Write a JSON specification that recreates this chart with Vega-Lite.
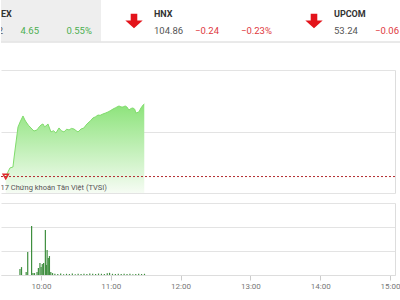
{
  "$schema": "https://vega.github.io/schema/vega-lite/v6.json",
  "padding": 0,
  "bounds": "flush",
  "spacing": 28,
  "config": {"font": "Roboto", "view": {"stroke": null}},
  "datasets": {
    "header": [
      {"index": "VNINDEX", "value": 849.72, "change": 4.65, "pct": 0.0055},
      {"index": "HNX", "value": 104.86, "change": -0.24, "pct": -0.0023},
      {"index": "UPCOM", "value": 53.24, "change": -0.06, "pct": -0.0011}
    ],
    "index": [
      {"t": "2017-06-01T09:34:00", "v": 845.07},
      {"t": "2017-06-01T09:37:30", "v": 845.63},
      {"t": "2017-06-01T09:40:00", "v": 845.69},
      {"t": "2017-06-01T09:41:00", "v": 846.34},
      {"t": "2017-06-01T09:42:30", "v": 847.25},
      {"t": "2017-06-01T09:44:15", "v": 848.29},
      {"t": "2017-06-01T09:46:00", "v": 848.62},
      {"t": "2017-06-01T09:48:25", "v": 849.01},
      {"t": "2017-06-01T09:50:00", "v": 848.75},
      {"t": "2017-06-01T09:51:00", "v": 848.62},
      {"t": "2017-06-01T09:53:00", "v": 848.40},
      {"t": "2017-06-01T09:55:05", "v": 848.23},
      {"t": "2017-06-01T09:57:35", "v": 848.03},
      {"t": "2017-06-01T10:00:10", "v": 848.10},
      {"t": "2017-06-01T10:02:00", "v": 848.30},
      {"t": "2017-06-01T10:03:30", "v": 848.42},
      {"t": "2017-06-01T10:05:10", "v": 848.49},
      {"t": "2017-06-01T10:06:30", "v": 848.30},
      {"t": "2017-06-01T10:07:40", "v": 848.36},
      {"t": "2017-06-01T10:09:20", "v": 848.49},
      {"t": "2017-06-01T10:11:50", "v": 847.97},
      {"t": "2017-06-01T10:14:00", "v": 848.05},
      {"t": "2017-06-01T10:16:00", "v": 847.90},
      {"t": "2017-06-01T10:18:35", "v": 848.23},
      {"t": "2017-06-01T10:20:30", "v": 848.05},
      {"t": "2017-06-01T10:22:45", "v": 847.97},
      {"t": "2017-06-01T10:25:00", "v": 848.15},
      {"t": "2017-06-01T10:27:00", "v": 848.10},
      {"t": "2017-06-01T10:29:00", "v": 848.20},
      {"t": "2017-06-01T10:31:10", "v": 848.16},
      {"t": "2017-06-01T10:33:00", "v": 848.05},
      {"t": "2017-06-01T10:34:30", "v": 847.97},
      {"t": "2017-06-01T10:37:00", "v": 848.16},
      {"t": "2017-06-01T10:39:30", "v": 848.23},
      {"t": "2017-06-01T10:41:00", "v": 848.40},
      {"t": "2017-06-01T10:42:50", "v": 848.55},
      {"t": "2017-06-01T10:45:00", "v": 848.70},
      {"t": "2017-06-01T10:47:00", "v": 848.88},
      {"t": "2017-06-01T10:49:00", "v": 848.95},
      {"t": "2017-06-01T10:51:15", "v": 849.07},
      {"t": "2017-06-01T10:53:00", "v": 849.05},
      {"t": "2017-06-01T10:55:25", "v": 849.14},
      {"t": "2017-06-01T10:57:30", "v": 849.20},
      {"t": "2017-06-01T10:59:40", "v": 849.27},
      {"t": "2017-06-01T11:01:30", "v": 849.35},
      {"t": "2017-06-01T11:03:50", "v": 849.46},
      {"t": "2017-06-01T11:06:00", "v": 849.55},
      {"t": "2017-06-01T11:08:50", "v": 849.66},
      {"t": "2017-06-01T11:10:30", "v": 849.60},
      {"t": "2017-06-01T11:12:10", "v": 849.59},
      {"t": "2017-06-01T11:14:00", "v": 849.66},
      {"t": "2017-06-01T11:15:30", "v": 849.59},
      {"t": "2017-06-01T11:17:10", "v": 849.40},
      {"t": "2017-06-01T11:19:00", "v": 849.50},
      {"t": "2017-06-01T11:20:30", "v": 849.53},
      {"t": "2017-06-01T11:22:00", "v": 849.45},
      {"t": "2017-06-01T11:23:00", "v": 849.20},
      {"t": "2017-06-01T11:25:30", "v": 849.27},
      {"t": "2017-06-01T11:27:15", "v": 849.53},
      {"t": "2017-06-01T11:29:00", "v": 849.72},
      {"t": "2017-06-01T11:30:00", "v": 849.79}
    ],
    "ref": [{"t": "2017-06-01T09:34:00", "ref": 845.07}],
    "credit": [{"text": "© 2017 Chứng khoán Tân Việt (TVSI)"}],
    "volume": [
      {"t": "2017-06-01T09:42:00", "vol": 0.25},
      {"t": "2017-06-01T09:43:20", "vol": 0.33},
      {"t": "2017-06-01T09:47:20", "vol": 0.12},
      {"t": "2017-06-01T09:48:40", "vol": 0.96},
      {"t": "2017-06-01T09:52:00", "vol": 2.04},
      {"t": "2017-06-01T09:53:10", "vol": 0.08},
      {"t": "2017-06-01T09:54:30", "vol": 0.08},
      {"t": "2017-06-01T09:56:40", "vol": 0.12},
      {"t": "2017-06-01T09:57:50", "vol": 0.29},
      {"t": "2017-06-01T09:59:10", "vol": 0.50},
      {"t": "2017-06-01T10:00:10", "vol": 0.33},
      {"t": "2017-06-01T10:01:10", "vol": 0.46},
      {"t": "2017-06-01T10:02:20", "vol": 0.50},
      {"t": "2017-06-01T10:03:50", "vol": 1.88},
      {"t": "2017-06-01T10:04:40", "vol": 0.42},
      {"t": "2017-06-01T10:05:20", "vol": 1.04},
      {"t": "2017-06-01T10:06:20", "vol": 0.71},
      {"t": "2017-06-01T10:07:20", "vol": 0.79},
      {"t": "2017-06-01T10:08:30", "vol": 0.12},
      {"t": "2017-06-01T10:10:00", "vol": 0.08},
      {"t": "2017-06-01T10:12:00", "vol": 0.05},
      {"t": "2017-06-01T10:14:30", "vol": 0.04},
      {"t": "2017-06-01T10:17:00", "vol": 0.06},
      {"t": "2017-06-01T10:19:30", "vol": 0.03},
      {"t": "2017-06-01T10:22:00", "vol": 0.05},
      {"t": "2017-06-01T10:24:30", "vol": 0.04},
      {"t": "2017-06-01T10:27:00", "vol": 0.06},
      {"t": "2017-06-01T10:29:30", "vol": 0.03},
      {"t": "2017-06-01T10:32:00", "vol": 0.05},
      {"t": "2017-06-01T10:34:30", "vol": 0.04},
      {"t": "2017-06-01T10:37:00", "vol": 0.05},
      {"t": "2017-06-01T10:39:30", "vol": 0.04},
      {"t": "2017-06-01T10:42:00", "vol": 0.06},
      {"t": "2017-06-01T10:44:30", "vol": 0.05},
      {"t": "2017-06-01T10:47:00", "vol": 0.04},
      {"t": "2017-06-01T10:49:30", "vol": 0.06},
      {"t": "2017-06-01T10:52:00", "vol": 0.05},
      {"t": "2017-06-01T10:54:30", "vol": 0.04},
      {"t": "2017-06-01T10:57:00", "vol": 0.07},
      {"t": "2017-06-01T10:59:00", "vol": 0.09},
      {"t": "2017-06-01T11:01:30", "vol": 0.05},
      {"t": "2017-06-01T11:04:00", "vol": 0.04},
      {"t": "2017-06-01T11:06:30", "vol": 0.05},
      {"t": "2017-06-01T11:09:00", "vol": 0.04},
      {"t": "2017-06-01T11:11:30", "vol": 0.05},
      {"t": "2017-06-01T11:14:00", "vol": 0.04},
      {"t": "2017-06-01T11:16:30", "vol": 0.05},
      {"t": "2017-06-01T11:19:00", "vol": 0.03},
      {"t": "2017-06-01T11:21:30", "vol": 0.04},
      {"t": "2017-06-01T11:24:00", "vol": 0.05},
      {"t": "2017-06-01T11:26:30", "vol": 0.04},
      {"t": "2017-06-01T11:29:00", "vol": 0.05}
    ]
  },
  "vconcat": [
    {
      "width": 400,
      "height": 42,
      "data": {"name": "header"},
      "layer": [
        {
          "transform": [{"filter": "datum.index === 'VNINDEX'"}],
          "mark": {"type": "rect", "color": "#eeeeee", "clip": true},
          "encoding": {
            "x": {"field": "index", "type": "nominal", "axis": null,
              "scale": {"type": "band", "domain": ["VNINDEX", "HNX", "UPCOM"], "range": [-68, 460], "paddingInner": 0.0667, "paddingOuter": 0}}
          }
        },
        {
          "mark": {"type": "rule", "color": "#e6e6e6", "strokeWidth": 1},
          "encoding": {
            "y": {"datum": 0, "type": "quantitative", "scale": {"domain": [0, 1]}, "axis": null}
          }
        },
        {
          "mark": {"type": "point", "filled": true, "size": 300, "opacity": 1, "strokeWidth": 0, "clip": true},
          "encoding": {
            "x": {"field": "index", "type": "nominal", "axis": null, "bandPosition": 0.125,
              "scale": {"type": "band", "domain": ["VNINDEX", "HNX", "UPCOM"], "range": [-68, 460], "paddingInner": 0.0667, "paddingOuter": 0}},
            "shape": {"condition": {"test": "datum.change < 0", "value": "M-0.38,-0.85L0.38,-0.85L0.38,-0.05L1,-0.05L0,0.85L-1,-0.05L-0.38,-0.05Z"}, "value": "M-0.38,0.85L0.38,0.85L0.38,0.05L1,0.05L0,-0.85L-1,0.05L-0.38,0.05Z"},
            "color": {"condition": {"test": "datum.change < 0", "value": "#e3141b"}, "value": "#2ea84a"}
          }
        },
        {
          "mark": {"type": "text", "align": "left", "baseline": "alphabetic", "dy": -4, "fontSize": 9, "fontWeight": "bold", "color": "#333333", "clip": true},
          "encoding": {
            "x": {"field": "index", "type": "nominal", "axis": null, "bandPosition": 0.244,
              "scale": {"type": "band", "domain": ["VNINDEX", "HNX", "UPCOM"], "range": [-68, 460], "paddingInner": 0.0667, "paddingOuter": 0}},
            "text": {"field": "index"}
          }
        },
        {
          "mark": {"type": "text", "align": "left", "baseline": "alphabetic", "dy": 13, "fontSize": 9.5, "color": "#555555", "clip": true},
          "encoding": {
            "x": {"field": "index", "type": "nominal", "axis": null, "bandPosition": 0.244,
              "scale": {"type": "band", "domain": ["VNINDEX", "HNX", "UPCOM"], "range": [-68, 460], "paddingInner": 0.0667, "paddingOuter": 0}},
            "text": {"field": "value", "type": "quantitative", "format": ".2f"}
          }
        },
        {
          "mark": {"type": "text", "align": "right", "baseline": "alphabetic", "dy": 13, "fontSize": 9.5, "clip": true},
          "encoding": {
            "x": {"field": "index", "type": "nominal", "axis": null, "bandPosition": 0.631,
              "scale": {"type": "band", "domain": ["VNINDEX", "HNX", "UPCOM"], "range": [-68, 460], "paddingInner": 0.0667, "paddingOuter": 0}},
            "text": {"field": "change", "type": "quantitative", "format": ".2f"},
            "color": {"condition": {"test": "datum.change < 0", "value": "#e0393e"}, "value": "#4caf50"}
          }
        },
        {
          "mark": {"type": "text", "align": "right", "baseline": "alphabetic", "dy": 13, "fontSize": 9.5, "clip": true},
          "encoding": {
            "x": {"field": "index", "type": "nominal", "axis": null, "bandPosition": 0.946,
              "scale": {"type": "band", "domain": ["VNINDEX", "HNX", "UPCOM"], "range": [-68, 460], "paddingInner": 0.0667, "paddingOuter": 0}},
            "text": {"field": "pct", "type": "quantitative", "format": ".2%"},
            "color": {"condition": {"test": "datum.change < 0", "value": "#e0393e"}, "value": "#4caf50"}
          }
        }
      ]
    },
    {
      "vconcat": [
        {
          "width": 394,
          "height": 123,
          "layer": [
            {
              "data": {"name": "index"},
              "mark": {
                "type": "area",
                "opacity": 1,
                "color": {"gradient": "linear", "x1": 1, "y1": 0, "x2": 1, "y2": 1,
                  "stops": [{"offset": 0, "color": "#8ce37a"}, {"offset": 1, "color": "#f6fcf4"}]},
                "line": {"color": "#80dc6c", "strokeWidth": 1}
              },
              "encoding": {
                "x": {"field": "t", "type": "temporal", "axis": null,
                  "scale": {"domain": [{"year": 2017, "month": 6, "date": 1, "hours": 9, "minutes": 30}, {"year": 2017, "month": 6, "date": 1, "hours": 15, "minutes": 0}], "nice": false}},
                "y": {"field": "v", "type": "quantitative",
                  "scale": {"domain": [844, 852], "nice": false, "zero": false},
                  "axis": {"orient": "right", "values": [844, 846, 848, 850, 852], "grid": true, "gridColor": "#e3e3e3", "domain": true, "domainColor": "#dddddd", "ticks": false, "labels": false, "title": null}},
                "y2": {"datum": 844}
              }
            },
            {
              "data": {"name": "ref"},
              "mark": {"type": "rule", "color": "#b22a2e", "strokeDash": [2, 2], "strokeWidth": 1},
              "encoding": {"y": {"field": "ref", "type": "quantitative"}}
            },
            {
              "data": {"name": "ref"},
              "mark": {"type": "point", "shape": "triangle-down", "filled": false, "color": "#e0262b", "size": 28, "strokeWidth": 1.5, "opacity": 1},
              "encoding": {
                "x": {"field": "t", "type": "temporal"},
                "y": {"field": "ref", "type": "quantitative"}
              }
            },
            {
              "data": {"name": "credit"},
              "mark": {"type": "text", "align": "right", "baseline": "alphabetic", "dy": -3, "fontSize": 7.5, "color": "#555555", "clip": true},
              "encoding": {
                "x": {"datum": {"year": 2017, "month": 6, "date": 1, "hours": 10, "minutes": 58, "seconds": 40}, "type": "temporal"},
                "y": {"datum": 844, "type": "quantitative"},
                "text": {"field": "text"}
              }
            }
          ]
        },
        {
          "width": 394,
          "height": 72,
          "data": {"name": "volume"},
          "mark": {"type": "bar", "width": 1.2, "color": "#3e8e3e"},
          "encoding": {
            "x": {"field": "t", "type": "temporal",
              "scale": {"domain": [{"year": 2017, "month": 6, "date": 1, "hours": 9, "minutes": 30}, {"year": 2017, "month": 6, "date": 1, "hours": 15, "minutes": 0}], "nice": false},
              "axis": {"values": [
                {"year": 2017, "month": 6, "date": 1, "hours": 10},
                {"year": 2017, "month": 6, "date": 1, "hours": 11},
                {"year": 2017, "month": 6, "date": 1, "hours": 12},
                {"year": 2017, "month": 6, "date": 1, "hours": 13},
                {"year": 2017, "month": 6, "date": 1, "hours": 14},
                {"year": 2017, "month": 6, "date": 1, "hours": 15}],
                "format": "%H:%M", "labelFontSize": 8, "labelColor": "#777777", "tickColor": "#cccccc", "tickSize": 5, "domainColor": "#dddddd", "grid": false, "title": null, "labelPadding": 2, "labelFlush": false, "labelOverlap": false}},
            "y": {"field": "vol", "type": "quantitative",
              "scale": {"domain": [0, 3], "nice": false},
              "axis": {"orient": "right", "values": [0, 1, 2, 3], "grid": true, "gridColor": "#e3e3e3", "domain": true, "domainColor": "#dddddd", "ticks": false, "labels": false, "title": null}}
          }
        }
      ],
      "spacing": 10,
      "bounds": "flush"
    }
  ]
}
